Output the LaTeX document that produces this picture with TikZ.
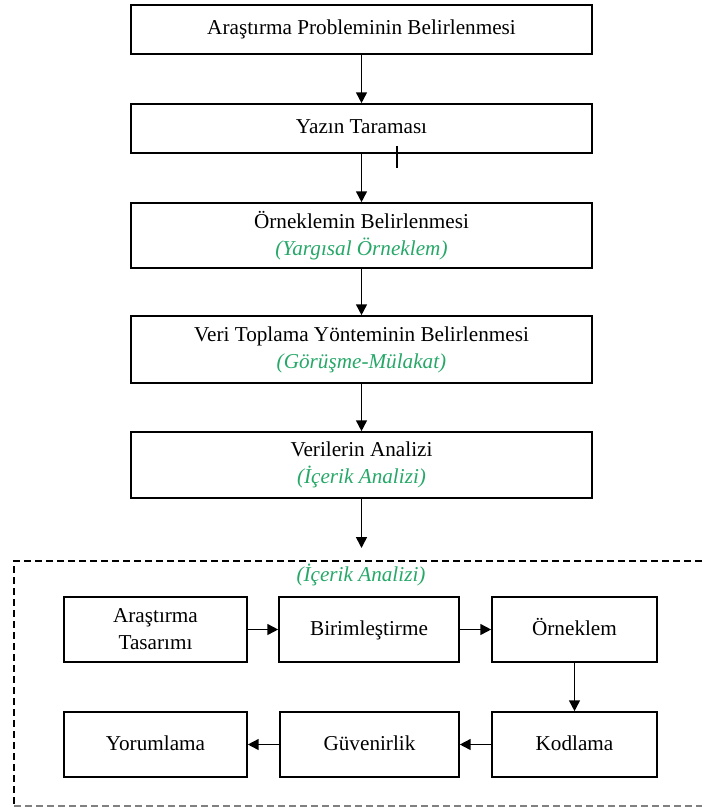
\documentclass[tikz,border=0pt]{standalone}
\usepackage{fontspec}
\setmainfont{Liberation Serif}
\usetikzlibrary{arrows.meta}
\definecolor{yesil}{RGB}{38,168,104}
\begin{document}
\begin{tikzpicture}[x=0.5pt,y=-0.5pt,
  kutu/.style={draw,line width=0.8pt,inner sep=0pt,align=center,font=\fontsize{10.6}{13.5}\selectfont},
  tek/.style={kutu,text height=8pt,text depth=2.5pt},
  ok/.style={line width=0.8pt,-{Triangle[width=5.4pt,length=5.4pt]}},
  not/.style={text=yesil,font=\fontsize{10.6}{13.5}\selectfont\itshape}]
\useasboundingbox (0,0) rectangle (702,807);
% ana adimlar
\node[tek,minimum width=230.5pt,minimum height=24.5pt] (problem) at (361.5,29.5) {Araştırma Probleminin Belirlenmesi};
\node[tek,minimum width=230.5pt,minimum height=24.5pt] (yazin) at (361.5,128.5) {Yazın Taraması};
\node[kutu,minimum width=230.5pt,minimum height=32.5pt] (orneklem) at (361.5,235.5) {Örneklemin Belirlenmesi\\{\color{yesil}\itshape (Yargısal Örneklem)}};
\node[kutu,minimum width=230.5pt,minimum height=33.5pt] (veri) at (361.5,349.5) {Veri Toplama Yönteminin Belirlenmesi\\{\color{yesil}\itshape (Görüşme-Mülakat)}};
\node[kutu,minimum width=230.5pt,minimum height=33pt] (analiz) at (361.5,465) {Verilerin Analizi\\{\color{yesil}\itshape (İçerik Analizi)}};
\coordinate (alt) at (361.5,548);
\draw[ok] (problem) -- (yazin);
\draw[ok] (yazin) -- (orneklem);
\draw[ok] (orneklem) -- (veri);
\draw[ok] (veri) -- (analiz);
\draw[ok] (analiz) -- (alt);
\draw[line width=0.9pt] (397,146) -- (397,168);
% icerik analizi
\draw[dash pattern=on 3.5pt off 2pt,line width=0.6pt] (702,561) -- (14,561) -- (14,806);
\draw[dash pattern=on 3.5pt off 2pt,line width=0.6pt,gray] (14,806) -- (702,806);
\node[not] (baslik) at (361,575) {(İçerik Analizi)};
\node[kutu,minimum width=91.5pt,minimum height=32.5pt] (tasarim) at (155.5,629.5) {Araştırma\\Tasarımı};
\node[tek,minimum width=90pt,minimum height=32.5pt] (birim) at (369,629.5) {Birimleştirme};
\node[tek,minimum width=82.5pt,minimum height=32.5pt] (ornek) at (574.5,629.5) {Örneklem};
\node[tek,minimum width=91.5pt,minimum height=32.5pt] (yorum) at (155.5,744.5) {Yorumlama};
\node[tek,minimum width=89.5pt,minimum height=32.5pt] (guven) at (369.5,744.5) {Güvenirlik};
\node[tek,minimum width=82.5pt,minimum height=32.5pt] (kodlama) at (574.5,744.5) {Kodlama};
\draw[ok] (tasarim) -- (birim);
\draw[ok] (birim) -- (ornek);
\draw[ok] (ornek) -- (kodlama);
\draw[ok] (kodlama) -- (guven);
\draw[ok] (guven) -- (yorum);
\end{tikzpicture}
\end{document}
